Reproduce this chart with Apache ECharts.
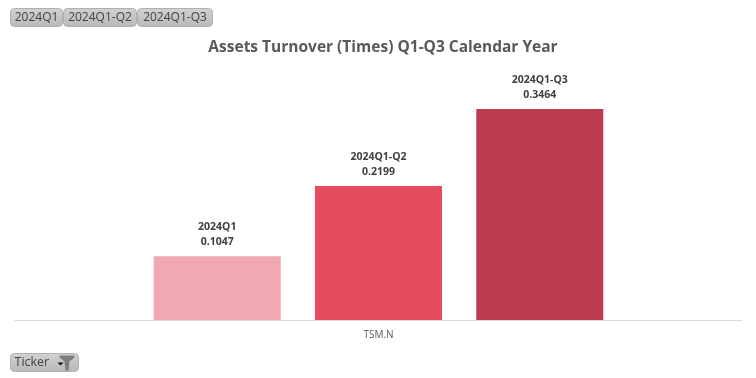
<!DOCTYPE html>
<html>
<head>
<meta charset="utf-8">
<style>
  html, body { margin: 0; padding: 0; background: #fff; }
  #main { width: 756px; height: 378px; }
</style>
<script src="https://cdn.jsdelivr.net/npm/echarts@6/dist/echarts.min.js"></script>
</head>
<body>
<div id="main"></div>
<script>
var categories = ['TSM.N'];
var periods = ['2024Q1', '2024Q1-Q2', '2024Q1-Q3'];
var q1Values = [0.1047];
var q1q2Values = [0.2199];
var q1q3Values = [0.3464];
var barColors = ['#F0A9B0', '#E64C5E', '#BC3C4F'];
var chipLefts = [10, 63, 137];
var chipWidths = [52, 73, 75];

var font = '"Open Sans", "Noto Sans", sans-serif';
var chart = echarts.init(document.getElementById('main'));

var chipFill = new echarts.graphic.LinearGradient(0, 0, 0, 1, [
  { offset: 0, color: '#D2D2D2' },
  { offset: 1, color: '#B8B8B8' }
]);

function chip(left, top, width, label) {
  return {
    type: 'group',
    left: left,
    top: top,
    children: [
      {
        type: 'rect',
        shape: { x: 0, y: 0, width: width, height: 18, r: 4 },
        style: { fill: chipFill, stroke: '#B0B0B0', lineWidth: 1 }
      },
      {
        type: 'text',
        x: width / 2,
        y: 9,
        style: {
          text: label,
          fill: '#444',
          font: '12px ' + font,
          align: 'center',
          verticalAlign: 'middle'
        }
      }
    ]
  };
}

var graphics = periods.map(function (p, i) {
  return chip(chipLefts[i], 8, chipWidths[i], p);
});

// Ticker slicer with its little filter icon
graphics.push({
  type: 'group',
  left: 10,
  top: 353,
  children: [
    {
      type: 'rect',
      shape: { x: 0, y: 0, width: 68, height: 18, r: 4 },
      style: { fill: chipFill, stroke: '#B0B0B0', lineWidth: 1 }
    },
    {
      type: 'text',
      x: 4,
      y: 9,
      style: { text: 'Ticker', fill: '#444', font: '12.5px ' + font, verticalAlign: 'middle' }
    },
    {
      type: 'polygon',
      shape: { points: [[47, 9], [53, 9], [50, 12]] },
      style: { fill: '#111' }
    },
    {
      type: 'polygon',
      shape: { points: [[49, 2], [64, 2], [64, 4], [59, 8], [58, 17], [55, 17], [54, 8], [49, 4]] },
      style: { fill: '#7F7F7F' }
    }
  ]
});

function barSeries(name, values, color) {
  return {
    name: name,
    type: 'bar',
    data: values,
    barWidth: 127,
    barGap: '27%',
    itemStyle: { color: color },
    label: {
      show: true,
      position: 'top',
      distance: 7,
      color: '#404040',
      fontFamily: font,
      fontSize: 10.5,
      fontWeight: 'bold',
      lineHeight: 15,
      formatter: function (d) {
        return d.seriesName + '\n' + d.value.toFixed(4);
      }
    }
  };
}

var option = {
  animation: false,
  backgroundColor: '#fff',
  title: {
    text: 'Assets Turnover (Times) Q1-Q3 Calendar Year',
    left: 378,
    top: 35,
    textAlign: 'center',
    textStyle: { color: '#595959', fontFamily: font, fontSize: 15.5, fontWeight: 'bold' }
  },
  grid: { left: 15, right: 14, top: 46, bottom: 58 },
  xAxis: {
    type: 'category',
    data: categories,
    axisTick: { show: false },
    axisLine: { lineStyle: { color: '#D9D9D9' } },
    axisLabel: { color: '#595959', fontFamily: font, fontSize: 10, margin: 10 }
  },
  yAxis: {
    type: 'value',
    min: 0,
    max: 0.45,
    show: false,
    splitLine: { show: false }
  },
  series: [
    barSeries(periods[0], q1Values, barColors[0]),
    barSeries(periods[1], q1q2Values, barColors[1]),
    barSeries(periods[2], q1q3Values, barColors[2])
  ],
  graphic: graphics
};

chart.setOption(option);
</script>
</body>
</html>
